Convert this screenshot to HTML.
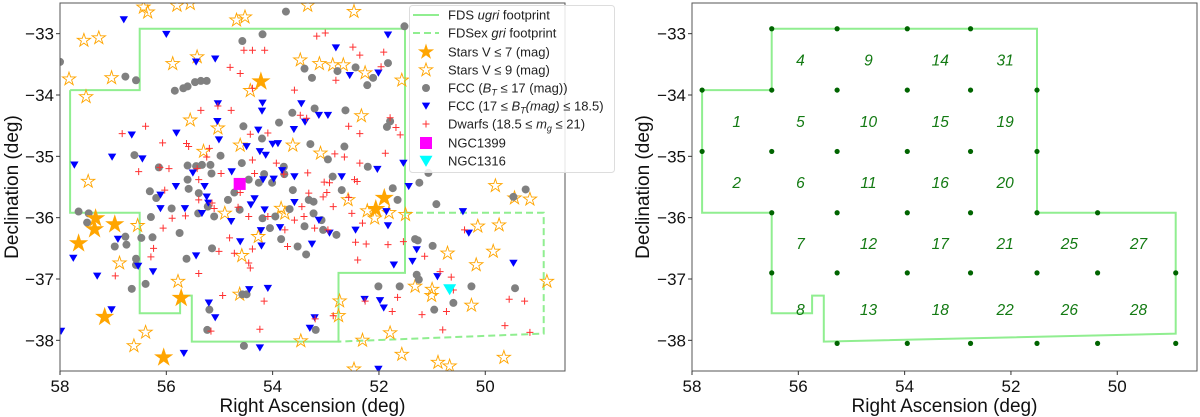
<!DOCTYPE html>
<html><head><meta charset="utf-8"><style>
body{margin:0;background:#fff;width:1200px;height:417px;overflow:hidden}
svg{display:block;font-family:"Liberation Sans","DejaVu Sans",sans-serif}
</style></head><body>
<svg id="s" width="1200" height="417"></svg>
<script>
// ---- data (RA deg, Dec deg) ----
const xTicks=[58,56,54,52,50];
const yTicks=[-33,-34,-35,-36,-37,-38];
const brightStarRA=[54.22,51.90,52.06,57.33,57.35,56.97,57.65,55.72,57.16,56.05];
const brightStarDec=[-33.78,-35.68,-35.86,-36.01,-36.19,-36.11,-36.42,-37.31,-37.62,-38.28];
const starRA=[56.43,56.35,55.80,55.55,53.34,52.47,57.55,57.27,57.83,57.03,57.51,55.88,55.42,54.68,54.52,53.48,53.12,52.87,52.67,52.26,51.57,54.42,55.55,55.03,54.61,53.62,53.10,52.33,55.30,57.47,56.54,56.88,54.90,53.84,53.77,52.58,52.22,52.08,51.81,51.50,49.81,49.45,49.16,50.14,49.74,50.71,49.85,50.17,48.84,54.27,54.58,55.78,54.62,51.32,51.00,51.01,52.74,52.76,50.26,56.39,56.61,53.47,52.31,51.79,51.57,50.89,50.67,49.65,52.47];
const starDec=[-32.57,-32.65,-32.54,-32.51,-32.54,-32.64,-33.11,-33.07,-33.74,-33.72,-34.03,-33.49,-33.38,-32.78,-32.73,-33.43,-33.49,-33.51,-33.51,-33.64,-33.76,-33.93,-34.41,-34.54,-34.82,-34.82,-34.95,-34.34,-34.92,-35.41,-36.13,-36.74,-35.93,-35.85,-35.93,-35.71,-35.89,-36.01,-35.92,-35.95,-35.48,-35.68,-35.70,-36.14,-36.12,-36.58,-36.55,-36.77,-37.04,-36.31,-36.62,-37.04,-37.25,-37.12,-37.17,-37.27,-37.36,-37.60,-37.43,-37.87,-38.09,-38.01,-38.00,-37.88,-38.23,-38.36,-38.42,-38.28,-38.47];
const fccRA=[58.00,56.77,56.57,55.84,55.68,55.60,55.46,55.35,55.24,54.57,54.19,53.75,53.40,53.26,52.78,52.44,52.22,52.11,51.52,51.83,53.21,52.63,53.63,53.88,54.55,54.20,53.29,52.65,51.85,51.79,56.60,56.14,55.60,55.44,55.33,55.17,54.98,55.15,54.58,54.72,54.84,54.45,54.26,54.16,53.79,53.78,54.01,53.62,53.32,53.23,52.87,52.70,52.96,52.21,51.74,51.65,51.24,51.07,50.92,49.24,49.47,56.31,56.19,55.90,55.60,55.58,55.39,57.65,57.46,57.49,56.97,56.77,56.75,56.47,56.26,56.29,55.75,55.40,55.22,55.10,54.62,54.19,54.05,53.95,53.68,53.84,53.53,53.40,53.23,53.08,53.05,52.80,53.37,55.14,55.62,56.57,56.57,56.39,56.65,51.32,51.27,50.99,51.29,51.25,52.01,51.61,50.96,50.60,50.26,49.44,54.57,54.49,55.19,55.23,53.19,54.54];
const fccDec=[-33.46,-33.70,-33.76,-33.93,-33.89,-33.86,-33.79,-33.77,-33.77,-33.12,-33.01,-32.64,-33.57,-33.72,-33.61,-33.55,-33.84,-33.72,-32.88,-33.48,-34.22,-34.25,-34.29,-34.45,-34.51,-34.71,-34.80,-34.84,-34.52,-34.43,-34.98,-35.18,-35.15,-35.16,-35.14,-35.14,-34.99,-35.28,-35.11,-35.59,-35.71,-35.38,-35.43,-35.29,-35.17,-35.29,-35.43,-35.55,-35.71,-35.74,-35.33,-35.55,-35.05,-35.17,-35.52,-35.71,-35.43,-35.27,-35.78,-35.54,-35.66,-35.57,-35.68,-35.85,-35.38,-35.53,-35.60,-35.90,-35.93,-36.08,-36.47,-36.31,-36.44,-36.33,-36.32,-35.99,-36.25,-35.93,-35.82,-35.98,-35.87,-36.01,-36.17,-35.98,-35.86,-36.35,-36.47,-36.14,-35.93,-36.04,-36.20,-36.28,-36.60,-36.50,-36.67,-36.67,-36.77,-37.08,-37.16,-36.35,-36.37,-36.46,-36.93,-37.01,-37.12,-37.12,-37.50,-37.39,-37.12,-37.15,-37.25,-37.25,-37.50,-37.83,-37.83,-38.09];
const faintRA=[56.80,56.00,55.44,55.08,52.81,52.55,52.01,51.83,55.03,54.19,53.46,54.20,55.04,54.27,53.60,53.13,52.96,53.39,55.81,55.01,54.49,54.24,54.00,53.90,54.13,56.65,56.45,57.02,57.73,55.50,55.82,55.28,55.24,55.21,54.77,54.34,54.18,53.98,53.82,54.15,53.59,53.59,53.13,52.70,52.03,51.54,51.44,56.11,56.11,55.65,55.33,54.78,54.41,54.22,53.86,54.61,54.21,53.26,52.93,52.44,51.86,51.83,56.91,56.53,56.25,57.30,57.75,55.44,54.44,54.09,55.20,55.08,53.21,53.30,51.91,52.27,51.98,51.72,51.29,51.37,50.90,50.42,50.31,49.47,57.03,55.67,54.24,52.01,57.98];
const faintDec=[-32.77,-33.01,-33.46,-33.41,-33.23,-33.68,-33.64,-33.02,-34.14,-34.13,-34.14,-34.26,-34.43,-34.57,-34.56,-34.33,-34.33,-34.44,-34.62,-34.73,-34.84,-34.92,-34.80,-34.79,-34.98,-34.65,-35.04,-35.01,-35.14,-35.27,-35.49,-35.49,-35.66,-35.76,-35.25,-35.69,-35.38,-35.37,-35.23,-35.87,-35.33,-35.75,-36.04,-35.33,-35.21,-35.11,-35.49,-35.63,-35.85,-35.85,-35.93,-36.06,-35.79,-36.21,-36.16,-36.39,-36.46,-36.43,-36.25,-36.20,-35.90,-36.13,-36.35,-36.79,-36.88,-36.95,-36.66,-36.62,-37.17,-37.15,-37.39,-37.63,-37.63,-37.80,-37.47,-37.33,-37.35,-36.77,-36.52,-36.71,-36.96,-35.90,-36.25,-36.74,-37.50,-38.21,-38.12,-38.47,-37.85];
const dwarfRA=[53.01,53.17,52.49,52.36,51.91,51.96,52.81,54.54,54.38,54.15,54.80,54.61,53.59,54.38,55.35,55.03,54.78,56.39,56.83,56.07,55.62,55.58,55.19,55.24,54.42,54.09,53.48,53.36,52.57,51.79,51.68,51.60,52.36,51.88,52.83,52.65,52.36,56.52,56.12,55.95,55.39,55.42,54.97,54.61,54.34,54.38,53.93,53.79,53.34,53.32,52.98,52.93,53.03,52.86,53.05,52.46,52.41,52.57,56.03,55.89,56.06,55.64,55.39,55.14,55.10,54.65,54.45,54.09,53.77,53.59,53.45,53.41,53.21,52.96,52.51,52.31,54.81,54.38,53.72,55.01,54.72,54.45,54.42,56.24,56.29,56.96,55.39,54.94,54.16,52.44,52.24,52.40,51.83,51.14,50.85,50.64,51.54,50.39,50.60,51.65,51.75,51.19,50.73,49.55,49.26,49.63,50.80,49.16,55.16,54.24,53.20,52.86,52.26];
const dwarfDec=[-32.99,-33.04,-33.22,-33.35,-33.30,-33.54,-33.76,-33.27,-33.27,-33.27,-33.55,-33.65,-33.92,-33.89,-34.25,-34.18,-34.25,-34.51,-34.63,-34.78,-34.79,-34.84,-34.87,-35.01,-34.64,-34.62,-34.33,-34.38,-34.51,-34.37,-34.53,-34.65,-34.63,-34.95,-34.96,-35.01,-35.11,-35.25,-35.18,-35.20,-35.38,-35.20,-35.28,-35.59,-35.28,-35.06,-35.11,-35.29,-35.27,-35.60,-35.59,-35.43,-35.42,-35.82,-35.66,-35.38,-35.41,-35.67,-35.55,-36.01,-36.17,-35.97,-35.71,-35.76,-35.85,-35.83,-35.98,-35.98,-36.20,-36.04,-35.82,-35.98,-36.17,-36.20,-35.93,-36.09,-36.33,-36.51,-36.47,-36.55,-36.58,-36.74,-36.82,-36.50,-36.64,-36.95,-36.91,-37.27,-37.36,-36.40,-36.43,-36.69,-36.44,-36.63,-36.88,-36.97,-36.39,-36.20,-37.18,-37.30,-37.53,-37.58,-37.53,-37.33,-37.36,-37.76,-37.83,-37.87,-37.85,-37.82,-37.65,-37.60,-37.36];
const ngc1399=[54.62,-35.45];
const ngc1316=[50.67,-37.17];
const ugriRA=[57.81,56.5,56.5,51.51,51.51,52.76,52.76,55.52,55.52,55.74,55.74,56.5,56.5,57.81];
const ugriDec=[-33.92,-33.92,-32.92,-32.92,-36.9,-36.9,-38.02,-38.02,-37.27,-37.27,-37.56,-37.56,-35.92,-35.92];
const griRA=[51.51,48.9,48.9,52.76];
const griDec=[-35.92,-35.92,-37.89,-38.02];
const fullRA=[57.81,56.5,56.5,51.51,51.51,48.9,48.9,55.52,55.52,55.74,55.74,56.5,56.5,57.81];
const fullDec=[-33.92,-33.92,-32.92,-32.92,-35.92,-35.92,-37.89,-38.02,-37.27,-37.27,-37.56,-37.56,-35.92,-35.92];
const centerRA=[56.5,55.27,53.95,52.76, 57.81,56.5,55.27,53.95,52.76,51.51, 57.81,56.5,55.27,53.95,52.76,51.51, 56.5,55.27,53.95,52.76,51.51,50.37, 56.5,55.27,53.95,52.76,51.51,50.37,48.9, 55.27,53.95,52.76,51.51,50.37,48.9];
const centerDec=[-32.92,-32.92,-32.92,-32.92, -33.92,-33.92,-33.92,-33.92,-33.92,-33.92, -34.92,-34.92,-34.92,-34.92,-34.92,-34.92, -35.92,-35.92,-35.92,-35.92,-35.92,-35.92, -36.9,-36.9,-36.9,-36.9,-36.9,-36.9,-36.9, -38.05,-38.05,-38.05,-38.05,-38.05,-38.05];
const fieldNames=["4","9","14","31","1","5","10","15","19","2","6","11","16","20","7","12","17","21","25","27","8","13","18","22","26","28"];
const fieldRA=[55.96,54.68,53.33,52.11,57.16,55.96,54.68,53.33,52.11,57.16,55.96,54.68,53.33,52.11,55.96,54.68,53.33,52.11,50.9,49.6,55.96,54.68,53.33,52.11,50.9,49.6];
const fieldDec=[-33.43,-33.43,-33.43,-33.43,-34.43,-34.43,-34.43,-34.43,-34.43,-35.43,-35.43,-35.43,-35.43,-35.43,-36.42,-36.42,-36.42,-36.42,-36.42,-36.42,-37.5,-37.5,-37.5,-37.5,-37.5,-37.5];

const NS='http://www.w3.org/2000/svg';
const svg=document.getElementById('s');
function mk(tag,attrs,parent){const e=document.createElementNS(NS,tag);for(const k in attrs)e.setAttribute(k,attrs[k]);(parent||svg).appendChild(e);return e;}
function axes(x0,x1){
  return {x:ra=>x0+(58-ra)/9.5*(x1-x0), y:d=>3+(-32.5-d)/6*(371-3), x0:x0,x1:x1};
}
const A=axes(60,565), B=axes(692,1197);
function clip(id,ax){const c=mk('clipPath',{id:id});mk('rect',{x:ax.x0,y:3,width:ax.x1-ax.x0,height:368},c);}
clip('cA',A);clip('cB',B);
function starPts(cx,cy,R){const r=R*0.382;let p=[];for(let i=0;i<10;i++){const a=-Math.PI/2+i*Math.PI/5;const rr=i%2?r:R;p.push((cx+rr*Math.cos(a)).toFixed(1)+','+(cy+rr*Math.sin(a)).toFixed(1));}return p.join(' ');}
function tri(cx,cy,s){return `${cx-s},${cy-s*0.8} ${cx+s},${cy-s*0.8} ${cx},${cy+s*0.9}`;}
function poly(ax,ras,decs,closed){return ras.map((r,i)=>ax.x(r).toFixed(1)+','+ax.y(decs[i]).toFixed(1)).join(' ')+(closed?' '+ax.x(ras[0]).toFixed(1)+','+ax.y(decs[0]).toFixed(1):'');}

// ---- left panel ----
const gA=mk('g',{'clip-path':'url(#cA)'});

let e;
e=mk('polyline',{points:poly(A,ugriRA,ugriDec,true),fill:'none',stroke:'#90ee90','stroke-width':2},gA);

e=mk('polyline',{points:poly(A,griRA,griDec,false),fill:'none',stroke:'#90ee90','stroke-width':2,'stroke-dasharray':'7,4'},gA);

starRA.forEach((r,i)=>{const el=mk('polygon',{points:starPts(A.x(r),A.y(starDec[i]),7),fill:'none',stroke:'orange','stroke-width':0.9},gA);
});
fccRA.forEach((r,i)=>{const el=mk('circle',{cx:A.x(r),cy:A.y(fccDec[i]),r:4,fill:'#808080'},gA);
});
faintRA.forEach((r,i)=>{const el=mk('polygon',{points:tri(A.x(r),A.y(faintDec[i]),4.2),fill:'#0000ff'},gA);
});
dwarfRA.forEach((r,i)=>{const cx=A.x(r),cy=A.y(dwarfDec[i]);const el=mk('path',{d:`M${cx-3.5},${cy}H${cx+3.5}M${cx},${cy-3.5}V${cy+3.5}`,stroke:'#ff3030','stroke-width':1},gA);
});
brightStarRA.forEach((r,i)=>{const el=mk('polygon',{points:starPts(A.x(r),A.y(brightStarDec[i]),8.5),fill:'orange',stroke:'orange'},gA);
});
e=mk('rect',{x:A.x(ngc1399[0])-6,y:A.y(ngc1399[1])-6,width:12,height:12,fill:'#ff00ff'},gA);

e=mk('polygon',{points:tri(A.x(ngc1316[0]),A.y(ngc1316[1]),6.5),fill:'#00ffff'},gA);


// ---- right panel ----
const gB=mk('g',{'clip-path':'url(#cB)'});

e=mk('polyline',{points:poly(B,fullRA,fullDec,true),fill:'none',stroke:'#90ee90','stroke-width':2},gB);

centerRA.forEach((r,i)=>{const el=mk('circle',{cx:B.x(r),cy:B.y(centerDec[i]),r:2.6,fill:'#006400'},gB);
});
fieldNames.forEach((n,i)=>{const t=mk('text',{x:B.x(fieldRA[i]),y:B.y(fieldDec[i])+5.5,'text-anchor':'middle','font-size':15.5,'font-style':'italic',fill:'#137a13'},gB);t.textContent=n;
});

// ---- axes frames, ticks ----
[[A,'left',18],[B,'right',649]].forEach(([ax,nm,tx])=>{
  const f=mk('rect',{x:ax.x0,y:3,width:ax.x1-ax.x0,height:368,fill:'none',stroke:'#555','stroke-width':1});
  
  xTicks.forEach(v=>{const x=ax.x(v);mk('line',{x1:x,x2:x,y1:371,y2:375,stroke:'#333'});
    const t=mk('text',{x:x,y:392,'text-anchor':'middle','font-size':17,fill:'#111'});t.textContent=v;
    });
  yTicks.forEach(v=>{const y=ax.y(v);mk('line',{x1:ax.x0-4,x2:ax.x0,y1:y,y2:y,stroke:'#333'});
    const t=mk('text',{x:ax.x0-6,y:y+6,'text-anchor':'end','font-size':17,fill:'#111'});t.textContent='\u2212'+Math.abs(v);
    });
  let t=mk('text',{x:(ax.x0+ax.x1)/2,y:412,'text-anchor':'middle','font-size':19,fill:'#111'});t.textContent='Right Ascension (deg)';
  
  t=mk('text',{x:tx,y:187,'text-anchor':'middle','font-size':19,fill:'#111',transform:`rotate(-90 ${tx} 187)`});t.textContent='Declination (deg)';
  
});

// ---- legend ----
const L=mk('g',{});

mk('rect',{x:409.5,y:5.5,width:205,height:167,rx:3,fill:'rgba(255,255,255,0.85)',stroke:'#ddd'},L);
const lx=426,tx0=448;
const rows=[15,33,52,70,88,106,124,143,161];
const labels=['FDS <tspan font-style="italic">ugri</tspan> footprint','FDSex <tspan font-style="italic">gri</tspan> footprint','Stars V \u2264 7 (mag)','Stars V \u2264 9 (mag)','FCC (<tspan font-style="italic">B</tspan><tspan font-size="9" dy="3" font-style="italic">T</tspan><tspan dy="-3"> \u2264 17 (mag))</tspan>','FCC (17 \u2264 <tspan font-style="italic">B</tspan><tspan font-size="9" dy="3" font-style="italic">T</tspan><tspan dy="-3" font-style="italic">(mag)</tspan> \u2264 18.5)','Dwarfs (18.5 \u2264 <tspan font-style="italic">m</tspan><tspan font-size="9" dy="3" font-style="italic">g</tspan><tspan dy="-3"> \u2264 21)</tspan>','NGC1399','NGC1316'];
mk('line',{x1:lx-13,x2:lx+13,y1:rows[0],y2:rows[0],stroke:'#90ee90','stroke-width':2},L);
mk('line',{x1:lx-13,x2:lx+13,y1:rows[1],y2:rows[1],stroke:'#90ee90','stroke-width':2,'stroke-dasharray':'7,4'},L);
mk('polygon',{points:starPts(lx,rows[2],8.5),fill:'orange'},L);
mk('polygon',{points:starPts(lx,rows[3],7),fill:'none',stroke:'orange','stroke-width':0.9},L);
mk('circle',{cx:lx,cy:rows[4],r:4,fill:'#808080'},L);
mk('polygon',{points:tri(lx,rows[5],4.2),fill:'#0000ff'},L);
mk('path',{d:`M${lx-3.5},${rows[6]}H${lx+3.5}M${lx},${rows[6]-3.5}V${rows[6]+3.5}`,stroke:'#ff3030'},L);
mk('rect',{x:lx-6,y:rows[7]-6,width:12,height:12,fill:'#ff00ff'},L);
mk('polygon',{points:tri(lx,rows[8],6.5),fill:'#00ffff'},L);
labels.forEach((s,i)=>{const t=mk('text',{x:tx0,y:rows[i]+4.5,'font-size':13,fill:'#222'},L);t.innerHTML=s;
});
</script>
</body></html>
